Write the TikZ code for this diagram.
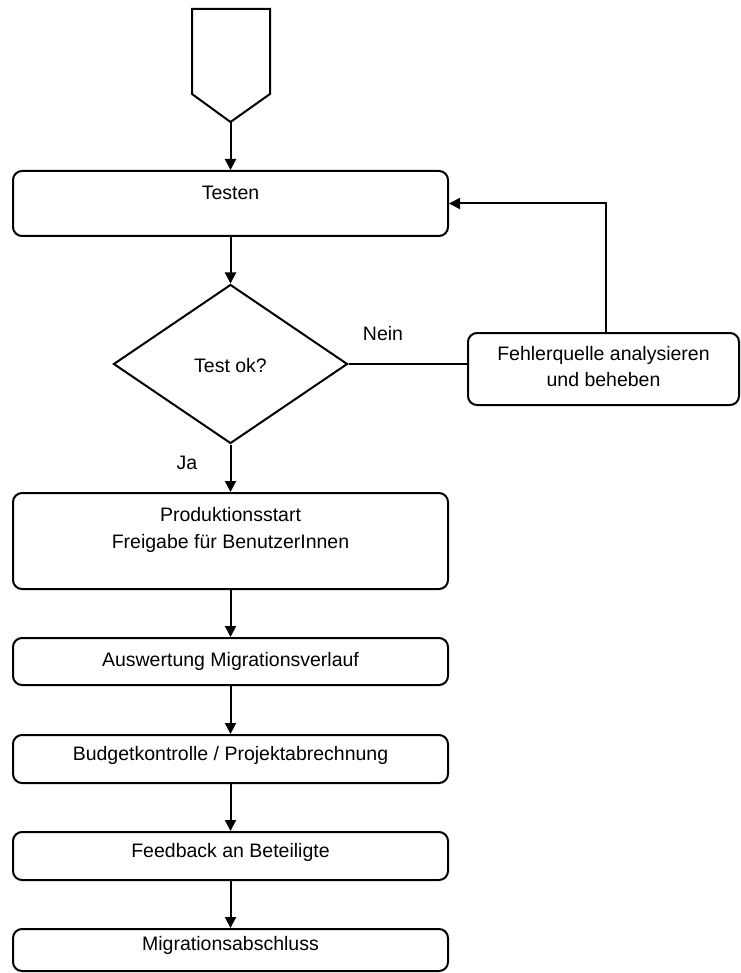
\documentclass[tikz,border=0pt]{standalone}
\usepackage{fontspec}
\setmainfont{Liberation Sans}
\usetikzlibrary{shapes.geometric,arrows.meta}
\begin{document}
\begin{tikzpicture}[x=1pt,y=-1pt,
  line width=2pt,
  every node/.style={font=\fontsize{19.5}{26.5}\selectfont},
  box/.style={draw, rounded corners=9pt, minimum width=435pt, inner sep=0pt},
  txt/.style={inner sep=0pt, align=center},
  arr/.style={-{Triangle[length=11pt,width=11pt]}}]
\useasboundingbox (0,0) rectangle (740,973);
% start shape
\draw (192,9) -- (270,9) -- (270,94) -- (230.5,122) -- (192,94) -- cycle;
\coordinate (start) at (230.5,122);
% boxes
\node[box, minimum height=65pt] (testen) at (230.5,203.5) {};
\node[txt] (testent) at (230.5,193) {Testen};
\node[draw, diamond, minimum width=234pt, minimum height=159pt, inner sep=0pt] (dia) at (230.5,364) {};
\node[txt] (diat) at (230.5,366) {Test ok?};
\node[box, minimum width=271pt, minimum height=72pt] (fehler) at (603.5,369) {};
\node[txt] (fehlert) at (603.5,366.5) {Fehlerquelle analysieren\\und beheben};
\node[box, minimum height=96pt] (prod) at (230.5,541) {};
\node[txt] (prodt) at (230.5,530) {Produktionsstart\\Freigabe für BenutzerInnen};
\node[box, minimum height=47pt] (ausw) at (230.5,661.5) {};
\node[txt] (auswt) at (230.5,661) {Auswertung Migrationsverlauf};
\node[box, minimum height=48pt] (budget) at (230.5,759) {};
\node[txt] (budgett) at (230.5,755) {Budgetkontrolle / Projektabrechnung};
\node[box, minimum height=48pt] (feed) at (230.5,856) {};
\node[txt] (feedt) at (230.5,852) {Feedback an Beteiligte};
\node[box, minimum height=42pt] (migr) at (230.5,950) {};
\node[txt] (migrt) at (230.5,945) {Migrationsabschluss};
% labels
\node[txt] (nein) at (383,334) {Nein};
\node[txt] (ja) at (187,463) {Ja};
% connectors
\draw[arr] (start) -- (testen.north);
\draw[arr] (testen.south) -- (dia.north);
\draw (dia.east) -- (dia.east -| fehler.west);
\draw[arr] ([xshift=2.5pt]fehler.north) |- (testen.east);
\draw[arr] (dia.south) -- (prod.north);
\draw[arr] (prod.south) -- (ausw.north);
\draw[arr] (ausw.south) -- (budget.north);
\draw[arr] (budget.south) -- (feed.north);
\draw[arr] (feed.south) -- (migr.north);
\end{tikzpicture}
\end{document}
